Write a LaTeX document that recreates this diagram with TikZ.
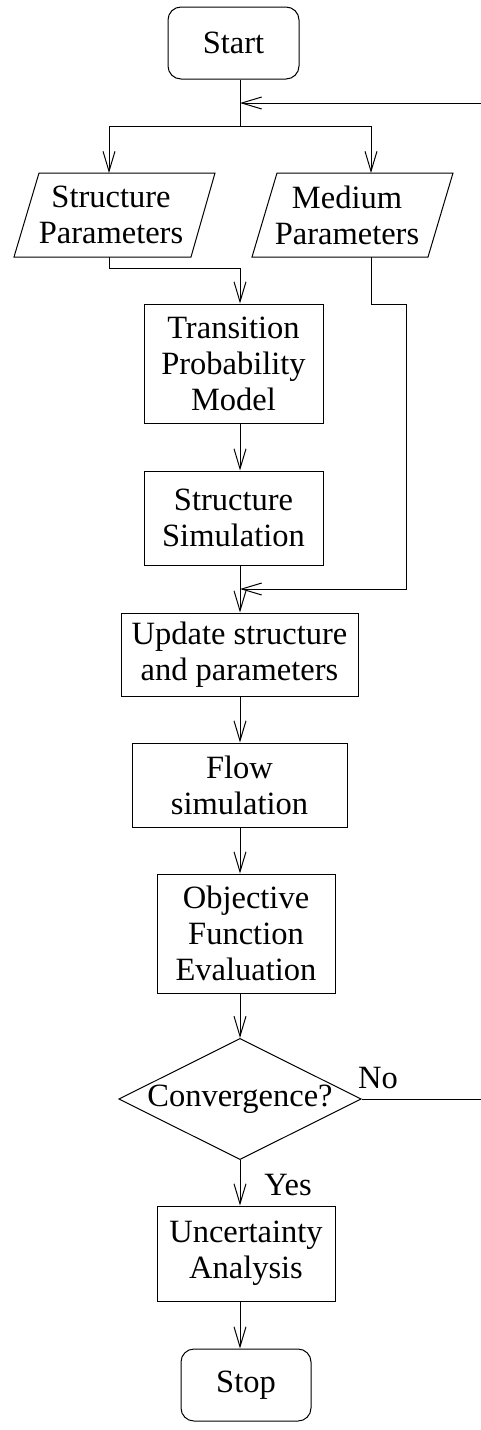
\documentclass[tikz,border=0pt]{standalone}
\usepackage{fontspec}
\setmainfont{Liberation Serif}
\usetikzlibrary{arrows.meta,shapes.geometric}
\newcommand\fsz{\fontsize{32.5}{36}\selectfont}
\tikzset{
  ln/.style={line width=1pt},
  box/.style={draw, ln, rectangle, inner sep=0pt, align=center, font=\fsz},
  rbox/.style={box, rounded corners=13pt},
  txt/.style={inner sep=0pt, align=center, font=\fsz},
  arr/.style={ln, -{Straight Barb[length=20pt,width=12pt]}},
}
\begin{document}
\begin{tikzpicture}[x=1pt,y=-1pt]
\useasboundingbox (0,0) rectangle (481,1430);
% nodes
\node[rbox, minimum width=131pt, minimum height=72pt] (start) at (233.5,43) {Start};
\draw[ln] (14,257) -- (39,173) -- (215,173) -- (191,257) -- cycle;
\node[txt] (sp) at (111,215) {Structure\\Parameters};
\draw[ln] (252,257) -- (277,173) -- (453,173) -- (428,257) -- cycle;
\node[txt] (mp) at (347,215) {Medium\\Parameters};
\node[box, minimum width=179pt, minimum height=119pt] (tpm) at (233.5,363.5) {Transition\\Probability\\Model};
\node[box, minimum width=179pt, minimum height=94pt] (ss) at (233.5,518) {Structure\\Simulation};
\node[box, minimum width=237pt, minimum height=83pt] (upd) at (239.5,654.5) {Update structure\\and parameters};
\node[box, minimum width=215pt, minimum height=84pt] (flow) at (239.5,785) {Flow\\simulation};
\node[box, minimum width=178pt, minimum height=119pt] (obj) at (246,933.5) {Objective\\Function\\Evaluation};
\node[draw, ln, diamond, aspect=2, inner sep=0pt, minimum width=237pt, minimum height=118pt, font=\fsz] (conv) at (240,1099) {Convergence?};
\node[box, minimum width=178pt, minimum height=95pt] (unc) at (246,1253.5) {Uncertainty\\Analysis};
\node[rbox, minimum width=130pt, minimum height=72pt] (stop) at (246,1385) {Stop};
\node[txt] (no) at (378,1078) {No};
\node[txt] (yes) at (288,1185) {Yes};
% coordinates
\coordinate (j1) at (240,126);
\coordinate (fb) at (240,103);
\coordinate (fbin) at (481,103);
\coordinate (ja) at (109,173);
\coordinate (jb) at (371,173);
\coordinate (spb) at (109,257);
\coordinate (k1) at (240,268);
\coordinate (mpb) at (371,257);
\coordinate (k2) at (406,304);
\coordinate (k3) at (240,589);
\coordinate (noend) at (481,1099);
% connectors
\draw[ln] (start.south -| j1) -- (j1);
\draw[arr] (fbin) -- (fb);
\draw[arr] (j1) -| (ja);
\draw[arr] (j1) -| (jb);
\draw[arr] (spb) |- (k1) -- (tpm.north -| k1);
\draw[arr] (tpm.south -| j1) -- (ss.north -| j1);
\draw[arr] (ss.south -| j1) -- (upd.north -| j1);
\draw[arr] (mpb) |- (k2) |- (k3);
\draw[arr] (upd.south -| j1) -- (flow.north -| j1);
\draw[arr] (flow.south -| j1) -- (obj.north -| j1);
\draw[arr] (obj.south -| j1) -- (conv.north);
\draw[arr] (conv.south) -- (unc.north -| conv.south);
\draw[arr] (unc.south -| j1) -- (stop.north -| j1);
\draw[ln] (conv.east) -- (noend);
\end{tikzpicture}
\end{document}
